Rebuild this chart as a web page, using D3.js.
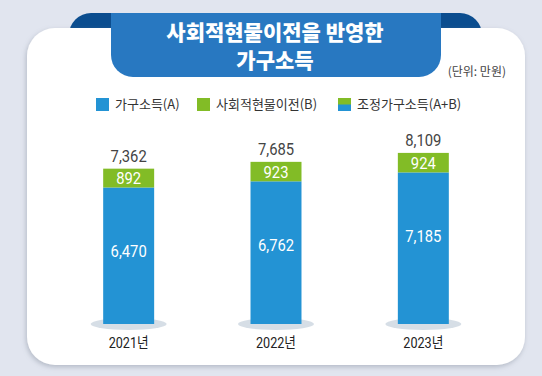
<!DOCTYPE html>
<html>
<head>
<meta charset="utf-8">
<script src="https://cdn.jsdelivr.net/npm/d3@7"></script>
<style>
  html, body { margin: 0; padding: 0; background: #e1e5ef; }
  svg { display: block; }
  .kr { font-family: "Noto Sans CJK KR", "Noto Sans", sans-serif; }
  .num { font-family: "Roboto", "Noto Sans CJK KR", sans-serif; }
</style>
</head>
<body>
<svg id="chart"></svg>
<script>
var years = ["2021년", "2022년", "2023년"];
var household = [6470, 6762, 7185];   // 가구소득(A)
var inKind = [892, 923, 924];         // 사회적현물이전(B)
var adjusted = [7362, 7685, 8109];    // 조정가구소득(A+B)
var legendLabels = ["가구소득(A)", "사회적현물이전(B)", "조정가구소득(A+B)"];

var w = 542, h = 376;
var blue = "#2393d4", green = "#82bc26";
var fmt = d3.format(",");
var squeeze = 0.87; // numbers in the original use a narrow face

var svg = d3.select("#chart").attr("width", w).attr("height", h);

var defs = svg.append("defs");
var f = defs.append("filter").attr("id", "shadow")
  .attr("x", "-10%").attr("y", "-10%").attr("width", "120%").attr("height", "120%");
f.append("feDropShadow").attr("dx", -1).attr("dy", 2).attr("stdDeviation", 2.5)
  .attr("flood-color", "#7a8494").attr("flood-opacity", 0.45);

// ribbon ends behind the card
svg.append("rect")
  .attr("x", 69).attr("y", 13).attr("width", 413).attr("height", 50)
  .attr("rx", 22).attr("fill", "#0b4d8f");

// white card
svg.append("rect")
  .attr("x", 27).attr("y", 28).attr("width", 498).attr("height", 337)
  .attr("rx", 28).attr("fill", "#fff").attr("filter", "url(#shadow)");

// title tab
var tx0 = 111, tx1 = 441, ty0 = 13, ty1 = 77, r = 22;
svg.append("path")
  .attr("d", "M" + tx0 + "," + ty0 + "H" + tx1 + "V" + (ty1 - r) +
    "A" + r + "," + r + " 0 0 1 " + (tx1 - r) + "," + ty1 +
    "H" + (tx0 + r) + "A" + r + "," + r + " 0 0 1 " + tx0 + "," + (ty1 - r) + "Z")
  .attr("fill", "#2878c1");

var title = svg.append("text").attr("class", "kr")
  .attr("text-anchor", "middle").attr("fill", "#fff")
  .attr("font-size", 21).attr("font-weight", 900);
title.append("tspan").attr("x", 275).attr("y", 40).text("사회적현물이전을 반영한");
title.append("tspan").attr("x", 275).attr("y", 68).text("가구소득");

svg.append("text").attr("class", "kr")
  .attr("x", 506).attr("y", 76).attr("text-anchor", "end")
  .attr("font-size", 12).attr("fill", "#444").text("(단위: 만원)");

// legend
var legendX = [96, 197, 338];
var lg = svg.selectAll(".lg").data(legendLabels).enter().append("g")
  .attr("class", "lg")
  .attr("transform", function(d, i) { return "translate(" + legendX[i] + ",98)"; });
lg.append("rect").attr("width", 13).attr("height", 13)
  .attr("fill", function(d, i) { return i === 0 ? blue : green; });
lg.filter(function(d, i) { return i === 2; }).append("rect")
  .attr("y", 6.5).attr("width", 13).attr("height", 6.5).attr("fill", blue);
lg.append("text").attr("class", "kr")
  .attr("x", 19).attr("y", 11).attr("font-size", 13).attr("fill", "#333")
  .text(function(d) { return d; });

// scales
var x = d3.scaleBand().domain(years).range([55, 497])
  .paddingInner(0.654).paddingOuter(0.327);
var y = d3.scaleLinear().domain([0, 9000]).range([324, 134.1]);

var rows = years.map(function(d, i) {
  return { year: d, a: household[i], b: inKind[i], total: adjusted[i] };
});

var cx = function(d) { return x(d.year) + x.bandwidth() / 2; };
var at = function(fx, fy) {
  return function(d) { return "translate(" + fx(d) + "," + fy(d) + ") scale(" + squeeze + ",1)"; };
};

var g = svg.selectAll(".bar").data(rows).enter().append("g").attr("class", "bar");

// floor shadow
g.append("ellipse")
  .attr("cx", cx).attr("cy", y(0))
  .attr("rx", 38).attr("ry", 6).attr("fill", "#d6dee6");

g.append("rect")
  .attr("x", function(d) { return x(d.year); })
  .attr("y", function(d) { return y(d.a); })
  .attr("width", x.bandwidth())
  .attr("height", function(d) { return y(0) - y(d.a); })
  .attr("fill", blue);

g.append("rect")
  .attr("x", function(d) { return x(d.year); })
  .attr("y", function(d) { return y(d.a + d.b); })
  .attr("width", x.bandwidth())
  .attr("height", function(d) { return y(d.a) - y(d.a + d.b); })
  .attr("fill", green);

g.append("text").attr("class", "num")
  .attr("transform", at(cx, function(d) { return y(d.total) - 6.5; }))
  .attr("text-anchor", "middle").attr("font-size", 17).attr("fill", "#444")
  .text(function(d) { return fmt(d.total); });

g.append("text").attr("class", "num")
  .attr("transform", at(cx, function(d) { return (y(d.a) + y(d.a + d.b)) / 2 + 6; }))
  .attr("text-anchor", "middle").attr("font-size", 17).attr("fill", "#fff")
  .text(function(d) { return fmt(d.b); });

g.append("text").attr("class", "num")
  .attr("transform", at(cx, function(d) { return y(d.a) + 70; }))
  .attr("text-anchor", "middle").attr("font-size", 17).attr("fill", "#fff")
  .text(function(d) { return fmt(d.a); });

// x axis labels
var xAxis = d3.axisBottom(x).tickSize(0).tickPadding(0);
var ax = svg.append("g").attr("transform", "translate(0,343)").call(xAxis);
ax.select(".domain").remove();
ax.selectAll("text").attr("class", "num")
  .attr("transform", "scale(" + squeeze + ",1)")
  .attr("x", function(d) { return 0; })
  .attr("font-size", 14.5).attr("fill", "#222").attr("dy", "0.35em");
ax.selectAll(".tick").attr("transform", function(d) { return "translate(" + cx({ year: d }) + ",0)"; });
</script>
</body>
</html>
